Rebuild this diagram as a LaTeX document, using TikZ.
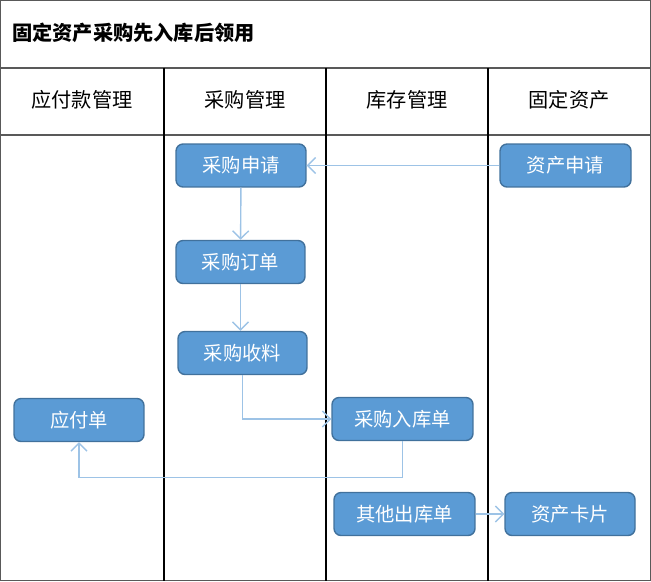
\documentclass[tikz,border=0pt]{standalone}
\usepackage{fontspec}
\newfontfamily\cjk{Noto Sans CJK SC}
\usetikzlibrary{arrows.meta}
\definecolor{boxfill}{HTML}{5B9BD5}
\definecolor{boxline}{HTML}{41719C}
\definecolor{flowline}{HTML}{9DC3E6}
\definecolor{gridline}{HTML}{595959}
\begin{document}
\begin{tikzpicture}[x=0.02cm,y=-0.02cm,
  stepbox/.style={draw=boxline,fill=boxfill,rounded corners=4pt,line width=0.8pt,
    minimum height=0.86cm,text=white,font=\cjk\fontsize{11}{12}\selectfont,inner sep=0pt},
  flow/.style={draw=flowline,line width=0.8pt,-{Straight Barb[length=1.6mm,width=3.2mm]}},
  lane/.style={font=\cjk\fontsize{11.5}{13}\selectfont}]
		%%%%% START %%%%%
		\useasboundingbox (0,0) rectangle (651,581);
		\draw[gridline,line width=0.8pt] (0.5,0.5) rectangle (650.5,580.5);
		\draw[gridline,line width=0.8pt] (0.5,68) -- (650.5,68);
		\draw[gridline,line width=0.8pt] (0.5,135) -- (650.5,135);
		\draw[black,line width=0.8pt] (164,68) -- (164,580.5);
		\draw[black,line width=0.8pt] (326,68) -- (326,580.5);
		\draw[black,line width=0.8pt] (488,68) -- (488,580.5);
		
		\node[anchor=west,inner sep=0pt,font=\cjk\bfseries\fontsize{11.5}{13}\selectfont] (title) at (12,33) {固定资产采购先入库后领用};
		\node[lane] (laneA) at (82,100) {应付款管理};
		\node[lane] (laneB) at (245,100) {采购管理};
		\node[lane] (laneC) at (407,100) {库存管理};
		\node[lane] (laneD) at (569,100) {固定资产};
		
		\node[stepbox,minimum width=2.6cm] (apply) at (241,165.5) {采购申请};
		\node[stepbox,minimum width=2.62cm] (assetapply) at (565.5,165.5) {资产申请};
		\node[stepbox,minimum width=2.58cm] (order) at (240.5,262) {采购订单};
		\node[stepbox,minimum width=2.58cm] (receive) at (242.5,353) {采购收料};
		\node[stepbox,minimum width=2.6cm] (payable) at (79,420) {应付单};
		\node[stepbox,minimum width=2.82cm] (instock) at (402.5,419) {采购入库单};
		\node[stepbox,minimum width=2.82cm] (outstock) at (404.5,514) {其他出库单};
		\node[stepbox,minimum width=2.6cm] (card) at (570,514) {资产卡片};
		
		\draw[flow] (assetapply) -- (apply);
		\draw[flow] (apply) -- (order);
		\draw[flow] (order.south) -- (order.south |- receive.north);
		\draw[flow] (receive.south) |- (instock.west);
		\draw[flow] (instock.south) -- ++(0,36) -| (payable.south);
		\draw[flow] (outstock) -- (card);
		%%%%% END %%%%%
	\end{tikzpicture}
\end{document}
